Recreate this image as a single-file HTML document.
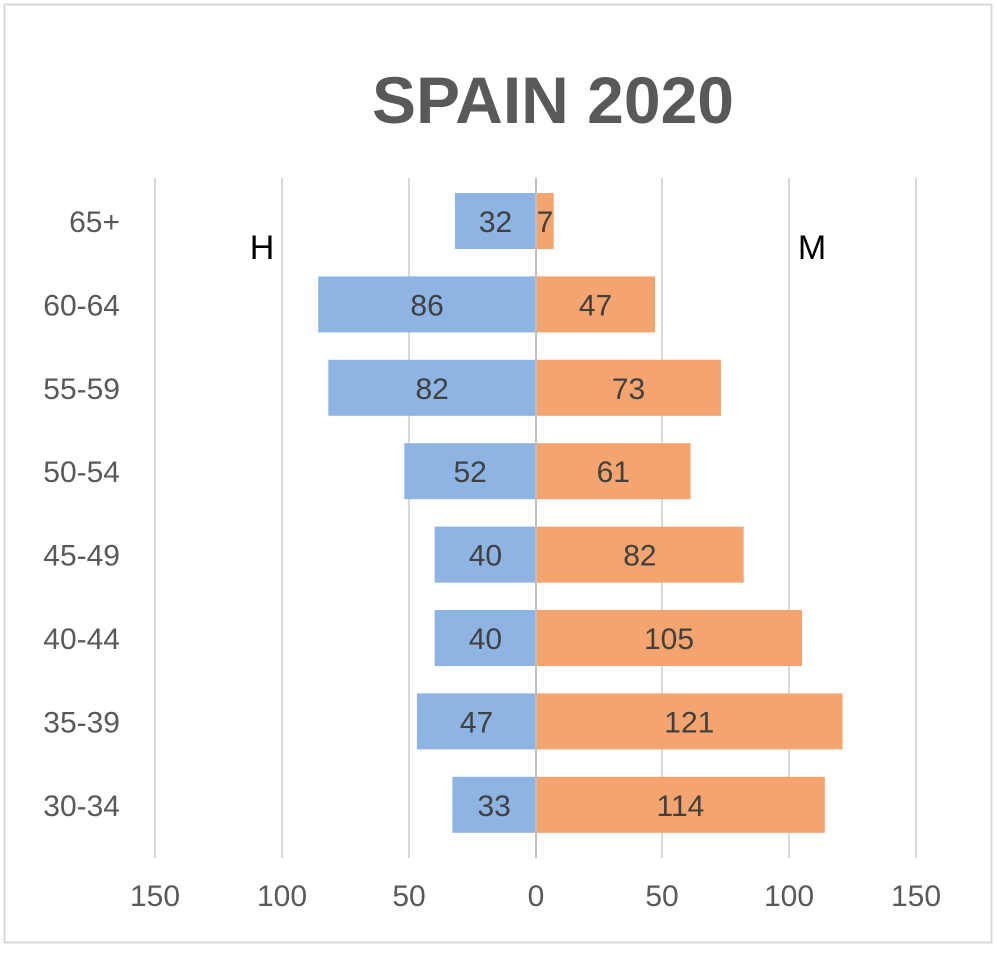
<!DOCTYPE html>
<html><head><meta charset="utf-8"><style>
html,body{margin:0;padding:0;background:#fff}
</style></head><body>
<svg width="997" height="949" xmlns="http://www.w3.org/2000/svg" font-family="Liberation Sans, sans-serif">
<rect x="0" y="0" width="997" height="949" fill="#fff"/>
<rect x="4.5" y="4.5" width="987" height="938" fill="none" stroke="#d9d9d9" stroke-width="2"/>
<text x="553" y="123" text-anchor="middle" font-size="66" font-weight="bold" fill="#595959">SPAIN 2020</text>
<g stroke="#d9d9d9" stroke-width="2">
<line x1="155" y1="178" x2="155" y2="858"/>
<line x1="282" y1="178" x2="282" y2="858"/>
<line x1="409" y1="178" x2="409" y2="858"/>
<line x1="662" y1="178" x2="662" y2="858"/>
<line x1="789" y1="178" x2="789" y2="858"/>
<line x1="916" y1="178" x2="916" y2="858"/>
</g>
<g fill="#8EB4E3">
<rect x="454.9" y="193" width="81.1" height="56"/>
<rect x="318.2" y="276.4" width="217.8" height="56"/>
<rect x="328.3" y="359.8" width="207.7" height="56"/>
<rect x="404.3" y="443.2" width="131.7" height="56"/>
<rect x="434.7" y="526.6" width="101.3" height="56"/>
<rect x="434.7" y="610" width="101.3" height="56"/>
<rect x="416.9" y="693.4" width="119.1" height="56"/>
<rect x="452.4" y="776.8" width="83.6" height="56"/>
</g>
<g fill="#F4A46E">
<rect x="536" y="193" width="17.7" height="56"/>
<rect x="536" y="276.4" width="119.1" height="56"/>
<rect x="536" y="359.8" width="184.9" height="56"/>
<rect x="536" y="443.2" width="154.5" height="56"/>
<rect x="536" y="526.6" width="207.7" height="56"/>
<rect x="536" y="610" width="266" height="56"/>
<rect x="536" y="693.4" width="306.5" height="56"/>
<rect x="536" y="776.8" width="288.8" height="56"/>
</g>
<line x1="536" y1="178" x2="536" y2="858" stroke="#bfbfbf" stroke-width="2"/>
<g font-size="30" fill="#404040" text-anchor="middle">
<text x="495.5" y="232">32</text>
<text x="427.1" y="315.4">86</text>
<text x="432.2" y="398.8">82</text>
<text x="470.2" y="482.2">52</text>
<text x="485.4" y="565.6">40</text>
<text x="485.4" y="649">40</text>
<text x="476.5" y="732.4">47</text>
<text x="494.2" y="815.8">33</text>
<text x="545" y="232">7</text>
<text x="595.5" y="315.4">47</text>
<text x="628.5" y="398.8">73</text>
<text x="613.3" y="482.2">61</text>
<text x="639.9" y="565.6">82</text>
<text x="669" y="649">105</text>
<text x="689.3" y="732.4">121</text>
<text x="680.4" y="815.8">114</text>
</g>
<g font-size="30" fill="#595959" text-anchor="end">
<text x="120" y="232">65+</text>
<text x="120" y="315.4">60-64</text>
<text x="120" y="398.8">55-59</text>
<text x="120" y="482.2">50-54</text>
<text x="120" y="565.6">45-49</text>
<text x="120" y="649">40-44</text>
<text x="120" y="732.4">35-39</text>
<text x="120" y="815.8">30-34</text>
</g>
<g font-size="30" fill="#595959" text-anchor="middle">
<text x="155" y="906">150</text><text x="282" y="906">100</text><text x="409" y="906">50</text>
<text x="536" y="906">0</text><text x="662" y="906">50</text><text x="789" y="906">100</text><text x="916" y="906">150</text>
</g>
<text x="262" y="259" font-size="34" fill="#000" text-anchor="middle">H</text>
<text x="812" y="259" font-size="34" fill="#000" text-anchor="middle">M</text>
</svg>
</body></html>
